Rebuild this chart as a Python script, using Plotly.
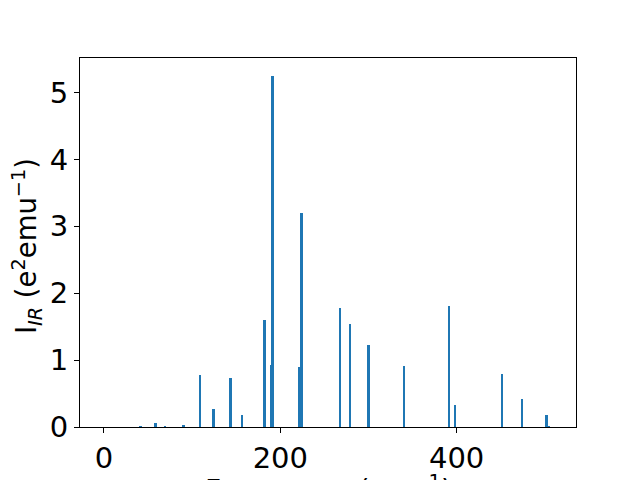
import plotly.graph_objects as go

freq = [41.6, 58.6, 69.6, 90.4, 109.3, 124.4, 143.7, 156.9, 182.3, 189.8, 191.4,
        221.6, 224.3, 268.1, 279.5, 300.3, 340.7, 391.7, 398.5, 451.9, 474.2, 502.2, 505.2]
intensity = [0.015, 0.06, 0.01, 0.03, 0.78, 0.27, 0.73, 0.18, 1.60, 0.93, 5.25,
             0.89, 3.20, 1.78, 1.54, 1.23, 0.91, 1.81, 0.33, 0.79, 0.42, 0.18, 0.01]
x_ticks = [0, 200, 400]
y_ticks = [0, 1, 2, 3, 4, 5]

FONT = "DejaVu Sans"
fig = go.Figure(go.Bar(x=freq, y=intensity, width=2.0, marker_color="#1f77b4",
                       marker_line_width=0))

fig.update_layout(
    width=632, height=472,
    margin=dict(l=72, r=64, t=50, b=53, autoexpand=False),
    paper_bgcolor="white", plot_bgcolor="white",
    font=dict(family=FONT, size=29, color="black"),
    showlegend=False,
    bargap=0,
)
fig.update_xaxes(range=[-27.2, 535.4], tickvals=x_ticks, ticks="outside", ticklen=5,
                 tickwidth=1, tickcolor="black", showline=True, linecolor="black",
                 linewidth=1, mirror=True, showgrid=False, zeroline=False,
                 automargin=False, tickfont=dict(size=29, family=FONT))
fig.update_yaxes(range=[0, 5.515], tickvals=y_ticks, ticks="outside", ticklen=5,
                 tickwidth=1, tickcolor="black", showline=True, linecolor="black",
                 linewidth=1, mirror=True, showgrid=False, zeroline=False,
                 automargin=False, tickfont=dict(size=29, family=FONT))

fig.add_annotation(text="Frequency (cm<sup>−1</sup>)", xref="paper", yref="paper",
                   x=0.5, y=-0.11, xanchor="center", yanchor="top", showarrow=False,
                   font=dict(size=28, family=FONT))
fig.add_annotation(text="I<sub><i>IR</i></sub> (e<sup>2</sup>emu<sup>−1</sup>)",
                   xref="paper", yref="paper", x=-0.107, y=0.49, xanchor="center",
                   yanchor="middle", textangle=-90, showarrow=False,
                   font=dict(size=27.5, family=FONT))

fig.write_html("out.html")
